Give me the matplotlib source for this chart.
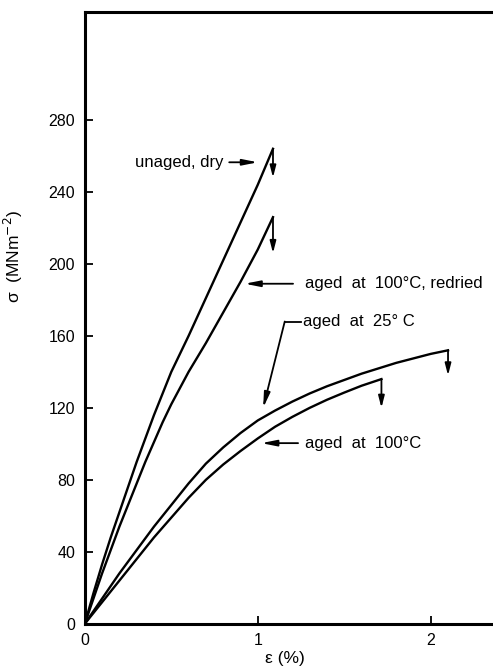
import matplotlib.pyplot as plt

plt.rcParams['font.family'] = ['Liberation Sans', 'DejaVu Sans']

# stress-strain curves, strain in %, stress in MN m^-2
unaged_strain = [0, 0.05, 0.1, 0.15, 0.2, 0.25, 0.3, 0.35, 0.4, 0.45, 0.5,
                 0.55, 0.6, 0.7, 0.8, 0.9, 1.0, 1.088]
unaged_stress = [0, 17, 33, 48, 62, 76, 90, 103, 116, 128, 140,
                 150, 160, 181, 202, 223, 244, 264]

redried_strain = [0, 0.05, 0.1, 0.15, 0.2, 0.25, 0.3, 0.35, 0.4, 0.45, 0.5,
                  0.55, 0.6, 0.7, 0.8, 0.9, 1.0, 1.088]
redried_stress = [0, 14, 28, 41, 54, 66, 78, 90, 101, 112, 122,
                  131, 140, 156, 173, 190, 208, 226]

aged25_strain = [0, 0.1, 0.2, 0.3, 0.4, 0.5, 0.6, 0.7, 0.8, 0.9, 1.0,
                 1.1, 1.2, 1.3, 1.4, 1.5, 1.6, 1.7, 1.8, 1.9, 2.0, 2.1]
aged25_stress = [0, 14, 28, 41, 54, 66, 78, 89, 98, 106, 113,
                 118.5, 123.5, 128, 132, 135.5, 139, 142, 145, 147.5, 150, 152]

aged100_strain = [0, 0.1, 0.2, 0.3, 0.4, 0.5, 0.6, 0.7, 0.8, 0.9, 1.0,
                  1.1, 1.2, 1.3, 1.4, 1.5, 1.6, 1.715]
aged100_stress = [0, 12, 24, 36, 48, 59, 70, 80, 88.5, 96, 103,
                  109.5, 115, 120, 124.5, 128.5, 132.3, 136]

curves = [
    (unaged_strain, unaged_stress),
    (redried_strain, redried_stress),
    (aged25_strain, aged25_stress),
    (aged100_strain, aged100_stress),
]
drop = [16, 20, 14, 16]

x_ticks = [0, 1, 2]
y_ticks = [0, 40, 80, 120, 160, 200, 240, 280]

fig = plt.figure(figsize=(4.93, 6.70), dpi=100)
ax = fig.add_axes([0.172, 0.069, 0.828, 0.913])

for (xs, ys), d in zip(curves, drop):
    ax.plot(xs, ys, color='k', lw=1.7, solid_joinstyle='round', zorder=3)
    # fracture marker: drop arrow from the final point
    ax.annotate('', xy=(xs[-1], ys[-1] - d), xytext=(xs[-1], ys[-1]),
                arrowprops=dict(arrowstyle='-|>,head_length=0.7,head_width=0.18',
                                color='k', lw=1.3, shrinkA=0, shrinkB=0))

head = dict(arrowstyle='-|>,head_length=0.9,head_width=0.18',
            color='k', lw=1.3, shrinkA=0, shrinkB=0)
tfont = dict(fontsize=12, va='center')

ax.text(0.289, 256.5, 'unaged, dry', ha='left', **tfont)
ax.annotate('', xy=(1.0, 256.5), xytext=(0.835, 256.5), arrowprops=head)

ax.text(1.272, 189, 'aged  at  100°C, redried', ha='left', **tfont)
ax.annotate('', xy=(0.925, 189), xytext=(1.204, 189), arrowprops=head)

ax.text(1.262, 168, 'aged  at  25° C', ha='left', **tfont)
ax.plot([1.252, 1.156], [168, 168], color='k', lw=1.3)
ax.annotate('', xy=(1.031, 120), xytext=(1.156, 168), arrowprops=head)

ax.text(1.272, 100.4, 'aged  at  100°C', ha='left', **tfont)
ax.annotate('', xy=(1.021, 100.4), xytext=(1.233, 100.4), arrowprops=head)

ax.set_xlim(0, 2.36)
ax.set_ylim(0, 340)
ax.set_xticks(x_ticks)
ax.set_yticks(y_ticks)
ax.tick_params(direction='in', length=6, width=1.3, labelsize=11.5, pad=7)
for side in ['left', 'bottom', 'top']:
    ax.spines[side].set_linewidth(2.2)
ax.spines['right'].set_visible(False)

ax.set_xlabel('ε (%)', fontsize=12.5)
ax.xaxis.set_label_coords(0.49, -0.045)
ax.set_ylabel('σ  (MNm$^{-2}$)', fontsize=12.5)
ax.yaxis.set_label_coords(-0.147, 0.6)

fig.savefig('out.png', dpi=100)
